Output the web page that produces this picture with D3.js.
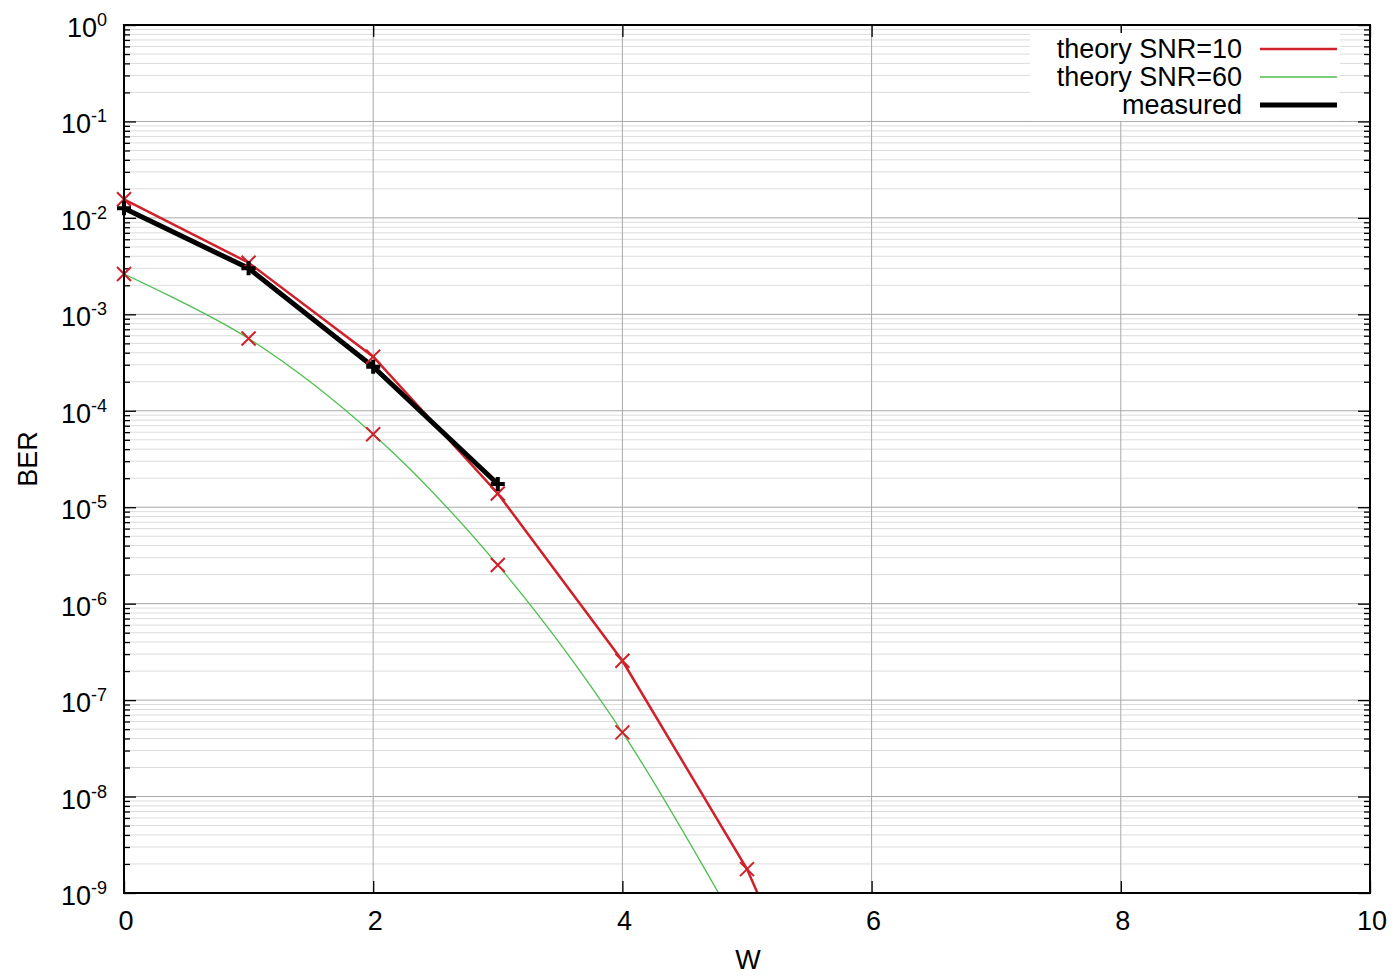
<!DOCTYPE html>
<html>
<head>
<meta charset="utf-8">
<script src="https://cdn.jsdelivr.net/npm/d3@7"></script>
<style>
  body { margin: 0; background: #fff; }
  text { font-family: "Liberation Sans", Arial, Helvetica, sans-serif; fill: #000; }
</style>
</head>
<body>
<script>
// data
var wTheory10 = [0, 1, 2, 3, 4, 5, 6];
var berTheory10 = [0.0156, 3.43e-3, 3.64e-4, 1.39e-5, 2.56e-7, 1.77e-9, 2.0e-12];

var wTheory60 = [0, 1, 2, 3, 4, 5];
var berTheory60 = [2.62e-3, 5.61e-4, 5.70e-5, 2.52e-6, 4.63e-8, 3.0e-10];

var wMeasured = [0, 1, 2, 3];
var berMeasured = [0.01257, 3.0e-3, 2.86e-4, 1.74e-5];

var xTicks = [0, 2, 4, 6, 8, 10];
var yExponents = [0, -1, -2, -3, -4, -5, -6, -7, -8, -9];

var legendNames = ["theory SNR=10", "theory SNR=60", "measured"];

var margin = {top: 25, right: 26, bottom: 83, left: 124},
    width = 1396 - margin.left - margin.right,
    height = 976 - margin.top - margin.bottom;

var red = "#d0202a", green = "#4cbf4c";

var svg = d3.select("body").append("svg")
    .attr("width", 1396)
    .attr("height", 976)
  .append("g")
    .attr("transform", "translate(" + margin.left + "," + margin.top + ")");

var x = d3.scaleLinear().domain([0, 10]).range([0, width]);
var y = d3.scaleLog().domain([1e-9, 1]).range([height, 0]);

var zip = function(xs, ys) {
  return xs.map(function(d, i) { return {w: d, ber: ys[i]}; });
};
var theory10 = zip(wTheory10, berTheory10);
var theory60 = zip(wTheory60, berTheory60);
var measured = zip(wMeasured, berMeasured);

// minor + major log ticks
var minorVals = [];
yExponents.forEach(function(e) {
  if (e === 0) return;
  for (var m = 2; m <= 9; m++) minorVals.push(m * Math.pow(10, e));
});
var majorVals = yExponents.map(function(e) { return Math.pow(10, e); });

// grid
svg.append("g").selectAll("line.minor")
  .data(minorVals).enter().append("line")
    .attr("x1", 0).attr("x2", width)
    .attr("y1", function(d) { return y(d); })
    .attr("y2", function(d) { return y(d); })
    .attr("stroke", "#dcdcdc").attr("stroke-width", 1);

svg.append("g").selectAll("line.major")
  .data(majorVals).enter().append("line")
    .attr("x1", 0).attr("x2", width)
    .attr("y1", function(d) { return y(d); })
    .attr("y2", function(d) { return y(d); })
    .attr("stroke", "#a8a8a8").attr("stroke-width", 1);

svg.append("g").selectAll("line.vgrid")
  .data(xTicks.slice(1, -1)).enter().append("line")
    .attr("x1", function(d) { return x(d); })
    .attr("x2", function(d) { return x(d); })
    .attr("y1", 0).attr("y2", height)
    .attr("stroke", "#a8a8a8").attr("stroke-width", 1);

// axes (ticks drawn inward, gnuplot style)
var tickStyle = function(g) {
  g.select(".domain").remove();
  g.selectAll(".tick line").attr("stroke", "#000").attr("stroke-width", 1.3);
  g.selectAll(".tick text").remove();
};

svg.append("g").attr("transform", "translate(0," + height + ")")
  .call(d3.axisBottom(x).tickValues(xTicks).tickSize(-12)).call(tickStyle);
svg.append("g")
  .call(d3.axisTop(x).tickValues(xTicks).tickSize(-12)).call(tickStyle);
svg.append("g")
  .call(d3.axisLeft(y).tickValues(majorVals).tickSize(-12)).call(tickStyle);
svg.append("g")
  .call(d3.axisLeft(y).tickValues(minorVals).tickSize(-6)).call(tickStyle);
svg.append("g").attr("transform", "translate(" + width + ",0)")
  .call(d3.axisRight(y).tickValues(majorVals).tickSize(-12)).call(tickStyle);
svg.append("g").attr("transform", "translate(" + width + ",0)")
  .call(d3.axisRight(y).tickValues(minorVals).tickSize(-6)).call(tickStyle);

// tick labels
svg.append("g").selectAll("text")
  .data(xTicks).enter().append("text")
    .attr("x", function(d) { return x(d) + 2; })
    .attr("y", height + 37)
    .attr("text-anchor", "middle")
    .style("font-size", "27px")
    .text(function(d) { return d; });

var yl = svg.append("g").selectAll("text")
  .data(yExponents).enter().append("text")
    .attr("x", -17)
    .attr("y", function(d) { return y(Math.pow(10, d)) + 12; })
    .attr("text-anchor", "end")
    .style("font-size", "27px");
yl.append("tspan").text("10");
yl.append("tspan")
    .attr("dy", -11)
    .style("font-size", "18px")
    .text(function(d) { return d; });

// axis titles
svg.append("text")
    .attr("x", width / 2 + 1)
    .attr("y", height + 76)
    .attr("text-anchor", "middle")
    .style("font-size", "27px")
    .text("W");

svg.append("text")
    .attr("transform", "translate(" + (37 - margin.left) + "," + (height / 2) + ") rotate(-90)")
    .attr("text-anchor", "middle")
    .style("font-size", "27px")
    .text("BER");

// clip for curves
svg.append("clipPath").attr("id", "plotclip")
  .append("rect").attr("width", width).attr("height", height);

var line = d3.line()
    .x(function(d) { return x(d.w); })
    .y(function(d) { return y(d.ber); });

var plot = svg.append("g").attr("clip-path", "url(#plotclip)");

plot.append("path").datum(theory10)
    .attr("fill", "none").attr("stroke", red).attr("stroke-width", 2.5)
    .attr("d", line);

plot.append("path").datum(theory60)
    .attr("fill", "none").attr("stroke", green).attr("stroke-width", 1.3)
    .attr("d", line.curve(d3.curveCatmullRom.alpha(0.5)));
line.curve(d3.curveLinear);

// red x markers on both theory curves
var inRange = function(d) { return d.ber >= 1e-9; };
var crossPath = function(d) {
  var cx = x(d.w), cy = y(d.ber), s = 7;
  return "M" + (cx - s) + "," + (cy - s) + "L" + (cx + s) + "," + (cy + s) +
         "M" + (cx - s) + "," + (cy + s) + "L" + (cx + s) + "," + (cy - s);
};
svg.append("g").selectAll("path")
  .data(theory10.filter(inRange).concat(theory60.filter(inRange)))
  .enter().append("path")
    .attr("d", crossPath)
    .attr("stroke", red).attr("stroke-width", 2);

// measured
plot.append("path").datum(measured)
    .attr("fill", "none").attr("stroke", "#000").attr("stroke-width", 5)
    .attr("stroke-linejoin", "round")
    .attr("d", line);

svg.append("g").selectAll("path")
  .data(measured).enter().append("path")
    .attr("d", function(d) {
      var cx = x(d.w), cy = y(d.ber), s = 7;
      return "M" + (cx - s) + "," + cy + "L" + (cx + s) + "," + cy +
             "M" + cx + "," + (cy - s) + "L" + cx + "," + (cy + s);
    })
    .attr("stroke", "#000").attr("stroke-width", 4);

// border
svg.append("rect")
    .attr("width", width).attr("height", height)
    .attr("fill", "none").attr("stroke", "#000").attr("stroke-width", 2);

// legend
var legend = svg.append("g").attr("transform", "translate(" + (1030 - margin.left) + "," + (33 - margin.top) + ")");
legend.append("rect")
    .attr("width", 310).attr("height", 88)
    .attr("fill", "#fff");

var legendStyles = [
  {stroke: red, w: 2.5},
  {stroke: green, w: 1.3},
  {stroke: "#000", w: 5}
];
legendNames.forEach(function(name, i) {
  var ly = 16 + i * 28;
  legend.append("text")
      .attr("x", 212)
      .attr("y", ly + 9)
      .attr("text-anchor", "end")
      .style("font-size", "27px")
      .text(name);
  legend.append("line")
      .attr("x1", 230).attr("x2", 307)
      .attr("y1", ly).attr("y2", ly)
      .attr("stroke", legendStyles[i].stroke)
      .attr("stroke-width", legendStyles[i].w);
});
</script>
</body>
</html>
